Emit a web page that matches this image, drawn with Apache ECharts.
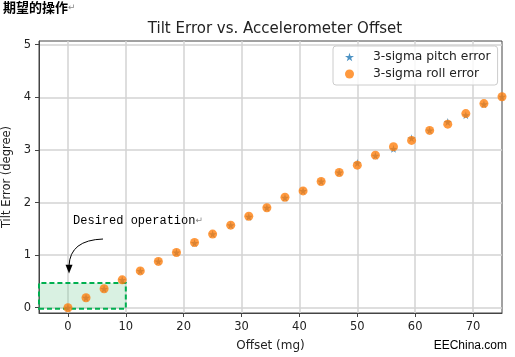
<!DOCTYPE html>
<html><head><meta charset="utf-8">
<script src="https://cdn.jsdelivr.net/npm/echarts@6/dist/echarts.min.js"></script>
<style>html,body{margin:0;padding:0;background:#fff}#c{width:515px;height:357px}</style>
</head><body><div id="c"></div>
<script>
const offsets = [0,3.125,6.25,9.375,12.5,15.625,18.75,21.875,25,28.125,31.25,34.375,37.5,40.625,43.75,46.875,50,53.125,56.25,59.375,62.5,65.625,68.75,71.875,75];
const pitchError = [0,0.19,0.36,0.53,0.70,0.88,1.05,1.23,1.40,1.57,1.73,1.90,2.09,2.22,2.40,2.57,2.75,2.89,3.02,3.22,3.37,3.53,3.66,3.87,4.01];
const rollError  = [0,0.19,0.36,0.53,0.70,0.88,1.05,1.24,1.40,1.57,1.74,1.90,2.10,2.22,2.40,2.57,2.71,2.90,3.06,3.18,3.37,3.49,3.69,3.88,4.01];
const xTicks = [0,10,20,30,40,50,60,70];
const yTicks = [0,1,2,3,4,5];
const seriesNames = ['3-sigma pitch error','3-sigma roll error'];
const desiredBox = [[-5,-0.02],[10,0.47]];

const STAR = 'path://M50,0 L61,35 L98,35 L68,57 L79,91 L50,70 L21,91 L32,57 L2,35 L39,35 Z';
const FONT = 'DejaVu Sans';
const chart = echarts.init(document.getElementById('c'), null, {renderer:'canvas'});
chart.setOption({
  animation:false,
  backgroundColor:'#fff',
  title:{text:'Tilt Error vs. Accelerometer Offset', left:270, top:17, textAlign:'center',
    textStyle:{fontFamily:FONT,fontSize:15,fontWeight:'normal',color:'#222'}},
  legend:{orient:'vertical', left:333, top:46, padding:[5,7,5,12], itemGap:5,
    itemWidth:9, itemHeight:9, borderColor:'#ccc', borderWidth:1, borderRadius:3,
    backgroundColor:'rgba(255,255,255,0.8)',
    textStyle:{fontFamily:FONT,fontSize:12.3,color:'#222',padding:[0,0,0,14]},
    data:seriesNames},
  grid:{left:39, right:13, top:41, bottom:44, show:true, borderColor:'#444', borderWidth:1, outerBoundsMode:'none', containLabel:false},
  xAxis:{type:'value', min:-5, max:75, name:'Offset (mg)', nameLocation:'middle', nameGap:27,
    nameTextStyle:{fontFamily:FONT,fontSize:12,color:'#222'},
    axisLine:{onZero:false, lineStyle:{color:'#444'}},
    axisTick:{show:true, customValues:xTicks, length:4, lineStyle:{color:'#444'}},
    axisLabel:{customValues:xTicks, fontFamily:FONT, fontSize:11.5, color:'#222', margin:8},
    splitLine:{show:true, lineStyle:{color:'#d3d3d3', width:1.5}}},
  yAxis:{type:'value', min:-0.1, max:5.07, name:'Tilt Error (degree)', nameLocation:'middle', nameGap:24,
    nameTextStyle:{fontFamily:FONT,fontSize:11.5,color:'#222'},
    axisLine:{show:true, onZero:false, lineStyle:{color:'#444'}},
    axisTick:{show:true, customValues:yTicks, length:4, lineStyle:{color:'#444'}},
    axisLabel:{customValues:yTicks, fontFamily:FONT, fontSize:11.5, color:'#222', margin:8},
    splitLine:{show:true, lineStyle:{color:'#d3d3d3', width:1.5}}},
  series:[
    {name:seriesNames[0], type:'scatter', symbol:STAR, symbolSize:8,
      itemStyle:{color:'#1f77b4'}, data:offsets.map((x,i)=>[x,pitchError[i]]), z:2,
      markArea:{silent:true, itemStyle:{color:'rgba(120,205,150,0.28)', borderColor:'#00b050', borderWidth:2, borderType:[5,3]},
        data:[[{coord:desiredBox[0]},{coord:desiredBox[1]}]]}},
    {name:seriesNames[1], type:'scatter', symbol:'circle', symbolSize:9,
      itemStyle:{color:'#ff7f0e', opacity:0.8}, data:offsets.map((x,i)=>[x,rollError[i]]), z:3}
  ]
});
// annotation anchors in data space
const P = (x,y)=>chart.convertToPixel({gridIndex:0},[x,y]);
const tPos = P(0.88,1.66);
const aS = P(6.06,1.306), aC = P(0.36,1.287), aE = P(0.19,0.80), aT = P(0.19,0.65);
chart.setOption({graphic:[
  {type:'text', left:3, top:1, style:{text:'{b|期望的操作}{r|↵}', rich:{
    b:{fontFamily:'Noto Sans CJK SC',fontSize:13,fontWeight:'bold',fill:'#000'},
    r:{fontFamily:'DejaVu Sans',fontSize:9,fill:'#888'}}}},
  {type:'text', x:tPos[0], y:tPos[1], style:{text:'{t|Desired operation}{r|↵}', verticalAlign:'middle', rich:{
    t:{fontFamily:'Liberation Mono',fontSize:12,fill:'#000'},
    r:{fontFamily:'DejaVu Sans',fontSize:9,fill:'#888'}}}},
  {type:'bezierCurve', shape:{x1:aS[0],y1:aS[1],cpx1:aC[0],cpy1:aC[1],x2:aE[0],y2:aE[1]},
    style:{stroke:'#000',lineWidth:1,fill:null}},
  {type:'polygon', shape:{points:[[aT[0],aT[1]],[aT[0]-3.5,aE[1]-1],[aT[0]+3.5,aE[1]-1]]}, style:{fill:'#000'}},
  {type:'text', right:8, bottom:5, style:{text:'EEChina.com', fontFamily:'Liberation Sans', fontSize:12, fill:'#000'}}
]});
</script></body></html>
